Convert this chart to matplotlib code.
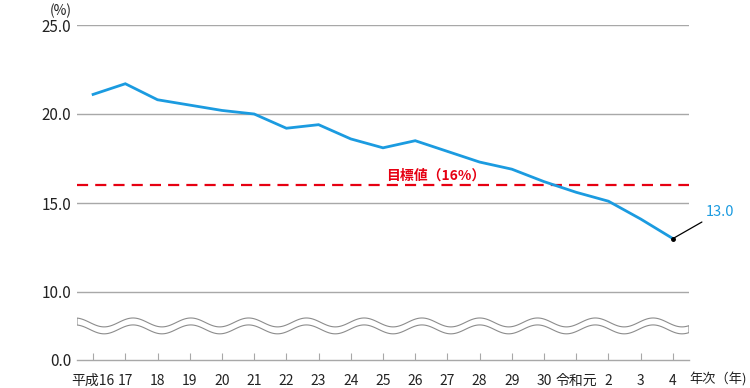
import numpy as np
import matplotlib
matplotlib.use("Agg")
import matplotlib.pyplot as plt

plt.rcParams['font.family'] = ['Noto Sans CJK JP', 'DejaVu Sans']

categories = ["平成16", "17", "18", "19", "20", "21", "22", "23", "24", "25",
              "26", "27", "28", "29", "30", "令和元", "2", "3", "4"]
values = [21.1, 21.7, 20.8, 20.5, 20.2, 20.0, 19.2, 19.4, 18.6, 18.1,
          18.5, 17.9, 17.3, 16.9, 16.2, 15.6, 15.1, 14.1, 13.0]
target = 16.0
target_label = "目標値（16%）"
last_label = "13.0"
ytick_values = [10.0, 15.0, 20.0, 25.0]

BLUE = "#1B9BE0"
RED = "#E60012"
GRAY = "#A8A8A8"

# broken axis: the "0.0" baseline sits below 10.0 with a gap
px_per_unit = 89 / 5.0
base = 10.0 - 68 / px_per_unit   # position where "0.0" is drawn

W, H = 750, 388
fig = plt.figure(figsize=(W / 100, H / 100), dpi=100)
ax = fig.add_axes([77 / W, 1 - 360 / H, (689 - 77) / W, (360 - 25) / H])

x = np.arange(len(categories))
ax.set_xlim(-0.5, len(categories) - 0.5)
ax.set_ylim(base, 25.0)

# grid lines
for v in ytick_values:
    ax.axhline(v, color=GRAY, lw=1.0, zorder=1)

# wavy break band
xs = np.linspace(-0.5, len(categories) - 0.5, 600)
period = 57.8 / 32.22
phase_x = 1.24
yc_up = 8.29
amp = 0.25
off = 0.39
up = yc_up + amp * np.cos(2 * np.pi * (xs - phase_x) / period)
lo = up - off
poly_x = np.concatenate([xs, xs[::-1]])
poly_y = np.concatenate([up, lo[::-1]])
ax.fill(poly_x, poly_y, facecolor="white", edgecolor="#8C8C8C", lw=0.8, zorder=2)

# target line
ax.axhline(target, color=RED, lw=1.6, ls=(0, (5, 3.2)), zorder=3)
ax.text(10.65, target + 0.12, target_label, color=RED, fontsize=10,
        ha="center", va="bottom", fontweight="bold", zorder=4)

# main series
ax.plot(x, values, color=BLUE, lw=2.0, zorder=5, solid_joinstyle="miter")
ax.plot(x[-1], values[-1], "o", color="black", ms=2.5, zorder=6)
ax.annotate(last_label, xy=(x[-1], values[-1]), xytext=(33, 27),
            textcoords="offset pixels", color=BLUE, fontsize=10.5,
            ha="left", va="center",
            arrowprops=dict(arrowstyle="-", color="black", lw=0.9,
                            shrinkA=1, shrinkB=0))

# axes styling
for s in ["top", "right", "left"]:
    ax.spines[s].set_visible(False)
ax.spines["bottom"].set_color(GRAY)
ax.spines["bottom"].set_linewidth(1.0)

ax.set_xticks(x)
ax.set_xticklabels(categories)
ax.tick_params(axis="x", direction="in", length=5, width=0.8, color=GRAY,
               pad=10, labelsize=10, labelcolor="#222222")
ax.set_yticks([base] + ytick_values)
ax.set_yticklabels(["0.0"] + [f"{v:.1f}" for v in ytick_values])
ax.tick_params(axis="y", length=0, pad=4, labelsize=11, labelcolor="#222222")

fig.text(61 / W, 1 - 11 / H, "(%)", ha="center", va="center", fontsize=10,
         color="#222222")
fig.text(689 / W, 1 - 380 / H, "年次（年)", ha="left", va="center",
         fontsize=9.5, color="#222222")

fig.savefig("out.png", dpi=100)
